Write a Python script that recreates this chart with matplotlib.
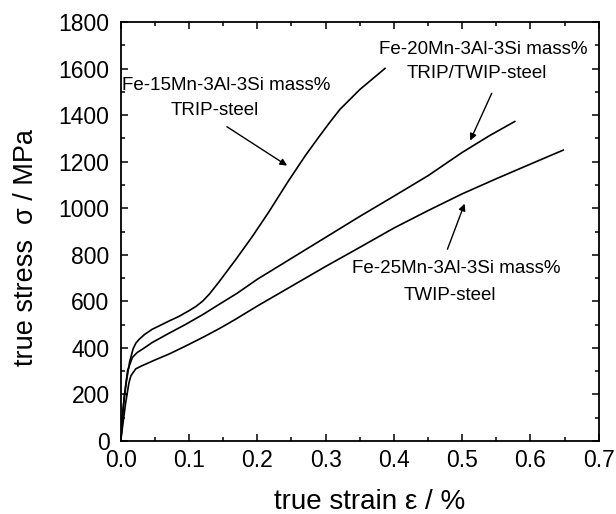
import numpy as np
import matplotlib.pyplot as plt

plt.rcParams['font.family'] = ['Liberation Sans', 'DejaVu Sans']

# Fe-15Mn-3Al-3Si (TRIP)
strain_15 = [0, 0.003, 0.008, 0.013, 0.018, 0.022, 0.027, 0.035, 0.046, 0.06, 0.071,
             0.085, 0.1, 0.11, 0.12, 0.13, 0.144, 0.168, 0.193, 0.217, 0.245,
             0.27, 0.291, 0.305, 0.321, 0.35, 0.387]
stress_15 = [0, 130, 250, 340, 395, 420, 437, 458, 480, 500, 516,
             535, 560, 578, 601, 632, 684, 778, 880, 985, 1115,
             1225, 1310, 1365, 1425, 1510, 1601]

# Fe-20Mn-3Al-3Si (TRIP/TWIP)
strain_20 = [0, 0.005, 0.01, 0.017, 0.024, 0.032, 0.046, 0.07, 0.095, 0.12,
             0.144, 0.17, 0.2, 0.25, 0.3, 0.35, 0.4, 0.45, 0.5, 0.54, 0.577]
stress_20 = [0, 189, 302, 359, 380, 395, 423, 462, 501, 543,
             587, 634, 695, 785, 875, 965, 1052, 1140, 1240, 1312, 1373]

# Fe-25Mn-3Al-3Si (TWIP)
strain_25 = [0, 0.007, 0.012, 0.015, 0.022, 0.03, 0.037, 0.05, 0.071, 0.095,
             0.12, 0.145, 0.168, 0.2, 0.25, 0.3, 0.35, 0.4, 0.45, 0.5,
             0.55, 0.6, 0.648]
stress_25 = [0, 160, 250, 281, 310, 322, 331, 348, 374, 408,
             445, 484, 523, 580, 665, 750, 832, 915, 990, 1062,
             1127, 1190, 1250]

xticks = [0.0, 0.1, 0.2, 0.3, 0.4, 0.5, 0.6, 0.7]
yticks = [0, 200, 400, 600, 800, 1000, 1200, 1400, 1600, 1800]

fig = plt.figure(figsize=(6.16, 5.14), dpi=100)
ax = fig.add_axes([0.196, 0.142, 0.776, 0.815])

for s, t in [(strain_15, stress_15), (strain_20, stress_20), (strain_25, stress_25)]:
    ax.plot(s, t, 'k-', lw=1.2)

ax.set_xlim(0, 0.7)
ax.set_ylim(0, 1800)
ax.set_xticks(xticks)
ax.set_xticklabels(['%.1f' % v for v in xticks])
ax.set_yticks(yticks)
ax.set_xticks(np.arange(0.05, 0.7, 0.1), minor=True)
ax.set_yticks(np.arange(100, 1800, 200), minor=True)
ax.tick_params(which='both', direction='in', top=True, right=True, labelsize=16.5, width=1.1)
ax.tick_params(which='major', length=5)
ax.tick_params(which='minor', length=3)
ax.tick_params(axis='x', pad=6)
ax.tick_params(axis='y', pad=8)
for sp in ax.spines.values():
    sp.set_linewidth(1.3)

ax.set_xlabel('true strain ε / %', fontsize=20)
ax.xaxis.set_label_coords(0.52, -0.115)
ax.set_ylabel('true stress  σ / MPa', fontsize=19.5)
ax.yaxis.set_label_coords(-0.17, 0.463)

fs = 13.5
ax.text(0.155, 1529, 'Fe-15Mn-3Al-3Si mass%', fontsize=fs, ha='center', va='center')
ax.text(0.138, 1422, 'TRIP-steel', fontsize=fs, ha='center', va='center')
ax.annotate('', xy=(0.247, 1177), xytext=(0.152, 1357),
            arrowprops=dict(arrowstyle='-|>', color='k', lw=1.0, mutation_scale=10))

ax.text(0.531, 1684, 'Fe-20Mn-3Al-3Si mass%', fontsize=fs, ha='center', va='center')
ax.text(0.521, 1580, 'TRIP/TWIP-steel', fontsize=fs, ha='center', va='center')
ax.annotate('', xy=(0.510, 1280), xytext=(0.545, 1505),
            arrowprops=dict(arrowstyle='-|>', color='k', lw=1.0, mutation_scale=10))

ax.text(0.492, 743, 'Fe-25Mn-3Al-3Si mass%', fontsize=fs, ha='center', va='center')
ax.text(0.482, 627, 'TWIP-steel', fontsize=fs, ha='center', va='center')
ax.annotate('', xy=(0.505, 1031), xytext=(0.477, 813),
            arrowprops=dict(arrowstyle='-|>', color='k', lw=1.0, mutation_scale=10))

fig.savefig('out.png', dpi=100)
